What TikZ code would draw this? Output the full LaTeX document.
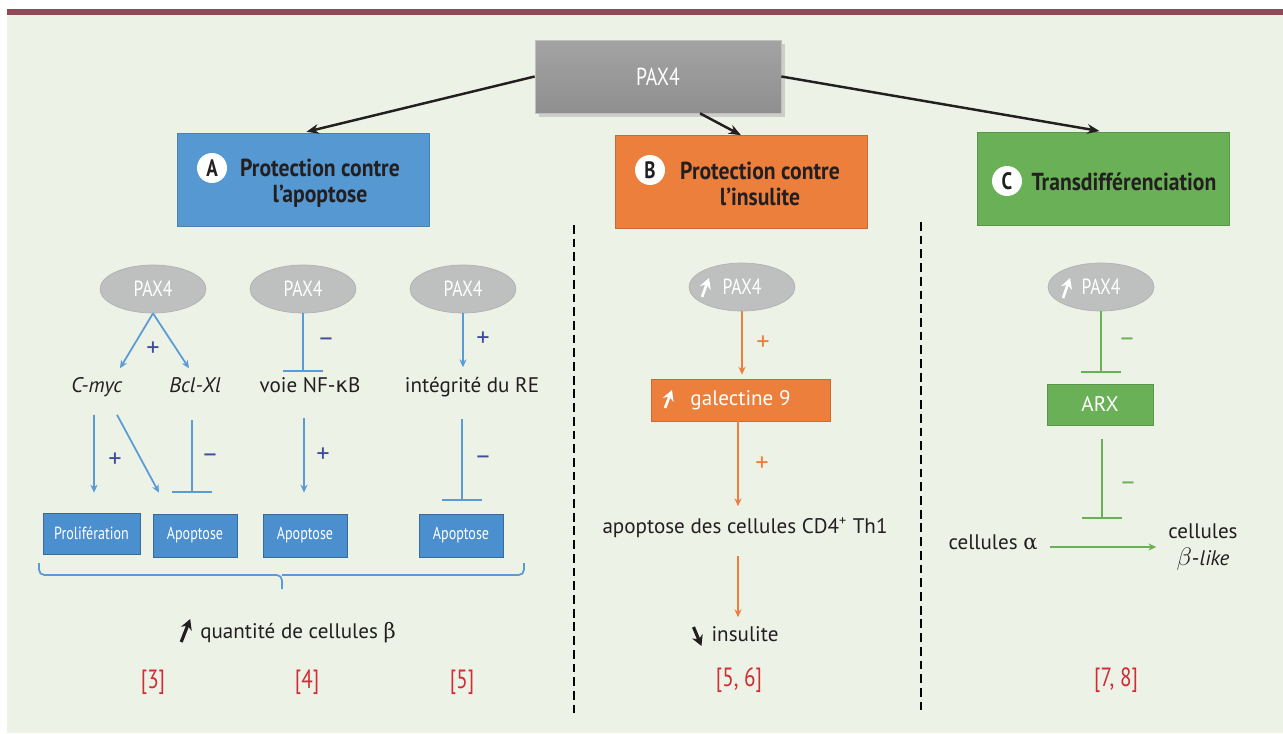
\documentclass[tikz,border=0pt]{standalone}
\usepackage{fontspec}
\setmainfont{PT Sans}
\newfontfamily\etroit{PT Sans}[FakeStretch=0.8]
\newfontfamily\titrefont{PT Sans}[FakeStretch=0.88]
\newfontfamily\grec{DejaVu Sans}
\newfontfamily\grecserif{DejaVu Serif}
\usetikzlibrary{arrows.meta,calc,shapes.geometric,shadows}

\definecolor{fond}{RGB}{237,242,231}
\definecolor{bordeaux}{RGB}{142,74,86}
\definecolor{bleuA}{RGB}{86,152,209}
\definecolor{bleuT}{RGB}{76,143,206}
\definecolor{bleuL}{RGB}{91,155,213}
\definecolor{signeA}{RGB}{62,76,155}
\definecolor{orangeB}{RGB}{237,127,60}
\definecolor{vertC}{RGB}{106,176,86}
\definecolor{grisE}{RGB}{190,191,191}
\definecolor{rouge}{RGB}{208,45,52}
\definecolor{texte}{RGB}{35,31,32}

\tikzset{
  boite/.style={rectangle, minimum width=5.04cm, minimum height=1.86cm, draw=#1!85!black, fill=#1, line width=0.4pt},
  pastille/.style={circle, fill=white, inner sep=0pt, minimum size=0.6cm, text=texte, font=\etroit\fontsize{13.5}{13.5}\selectfont\bfseries},
  titre/.style={align=center, text=texte, font=\titrefont\fontsize{14}{14.7}\selectfont\bfseries},
  pax/.style={ellipse, fill=grisE, draw=gray!60, minimum width=2.12cm, minimum height=0.96cm, inner sep=0pt, text=white, font=\etroit\fontsize{12.5}{12.5}\selectfont},
  petite/.style={rectangle, draw=bleuT!75!black, fill=bleuT, minimum width=1.68cm, minimum height=0.86cm, inner sep=0pt, text=white, font=\etroit\fontsize{10}{10}\selectfont},
  mot/.style={text=texte, inner sep=1pt, text height=8.5pt, text depth=2.5pt, font=\fontsize{12}{14}\selectfont},
  signe/.style={text=#1, inner sep=1pt, font=\fontsize{15}{15}\selectfont},
  biblio/.style={text=rouge, inner sep=1pt, font=\etroit\fontsize{15}{15}\selectfont},
  fl/.style={draw=#1, line width=1pt, -{Stealth[length=4.5pt,width=4pt]}},
  inhib/.style={draw=#1, line width=1pt, -{Bar[width=23pt]}},
  noire/.style={draw=texte, line width=1.4pt, -{Stealth[length=7pt,width=5.5pt]}},
  grosse/.style={draw=#1, line width=1.8pt, -{Stealth[length=6pt,width=6.5pt]}},
  pointilles/.style={draw=black, line width=1.6pt, dash pattern=on 5pt off 2.8pt}
}

\begin{document}
\begin{tikzpicture}[x=0.02cm, y=-0.02cm]
  \useasboundingbox (0,0) rectangle (1283,733);

  % Fond
  \fill[white] (0,0) rectangle (1283,733);
  \fill[fond] (7,15) rectangle (1283,733);
  \fill[bordeaux] (7,9) rectangle (1283,15);

  % Boites du haut
  \node[rectangle, top color=gray!72, bottom color=gray!88, draw=gray!50,
        drop shadow={opacity=0.3}, minimum width=4.92cm, minimum height=1.46cm,
        text=white, font=\etroit\fontsize{14}{14}\selectfont] (pax) at (658,76.5) {PAX4};
  \node[boite=bleuA] (boiteA) at (303,179.5) {};
  \node[boite=orangeB] (boiteB) at (741,182) {};
  \node[boite=vertC] (boiteC) at (1103,178.5) {};

  \node[pastille] (pA) at (212,168) {A};
  \node[titre] (tA) at (320,183) {Protection contre\\l’apoptose};
  \node[pastille] (pB) at (650,170) {B};
  \node[titre] (tB) at (760,184) {Protection contre\\l’insulite};
  \node[pastille] (pC) at (1007,181) {C};
  \node[titre] (tC) at (1124,182) {Transdifférenciation};

  \draw[noire, shorten >=2pt] (pax.west) -- (boiteA.north);
  \draw[noire] ($(pax.south)+(42,0)$) -- (boiteB.north);
  \draw[noire, shorten >=2pt] (pax.east) -- (boiteC.north);

  % Separations
  \draw[pointilles] (574,225) -- (574,716);
  \draw[pointilles] (921,222) -- (921,712);

  % A : apoptose
  \node[pax] (pax1) at (153,289) {PAX4};
  \node[pax] (pax2) at (303,289) {PAX4};
  \node[pax] (pax3) at (463,289) {PAX4};
  \node[mot] (cmyc) at (97,387) {\textit{C-myc}};
  \node[mot] (bcl) at (195,387) {\textit{Bcl-Xl}};
  \node[mot] (nfkb) at (310,387) {voie NF-{\grec κ}B};
  \node[mot] (integ) at (472,387) {intégrité du RE};
  \node[petite, minimum width=1.94cm, minimum height=0.82cm] (prolif) at (91.5,533.5) {Prolifération};
  \node[petite] (apop1) at (195,535.5) {Apoptose};
  \node[petite] (apop2) at (305,535.5) {Apoptose};
  \node[petite] (apop3) at (461,535.5) {Apoptose};

  \draw[fl=bleuL] (pax1.south) -- ($(cmyc.north)+(23,-7)$);
  \draw[fl=bleuL] (pax1.south) -- ($(bcl.north)+(-6,-7)$);
  \draw[inhib=bleuL] (pax2.south) -- ($(pax2.south |- nfkb.north)+(0,-3)$);
  \draw[fl=bleuL] (pax3.south) -- ($(pax3.south |- integ.north)+(0,-8)$);
  \draw[fl=bleuL] ($(cmyc.south)+(-3,16)$) -- ($(prolif.north)+(2.5,-20)$);
  \draw[fl=bleuL] ($(cmyc.south)+(20,16)$) -- ($(apop1.north)+(-36,-21)$);
  \draw[inhib=bleuL] ($(bcl.south)+(-3,21)$) -- ($(apop1.north)+(-3,-21)$);
  \draw[fl=bleuL] ($(nfkb.south)+(-6,19)$) -- ($(apop2.north)+(-1,-21)$);
  \draw[inhib=bleuL] ($(integ.south)+(-10,20)$) -- ($(apop3.north)+(1,-13)$);

  \node[signe=signeA] (sA1) at (153,349) {+};
  \node[signe=signeA] (sA2) at (326,342) {–};
  \node[signe=signeA] (sA3) at (483,339) {+};
  \node[signe=signeA] (sA4) at (115,460) {+};
  \node[signe=signeA] (sA5) at (210,458) {–};
  \node[signe=signeA] (sA6) at (323,455) {+};
  \node[signe=signeA] (sA7) at (483,460) {–};

  \draw[bleuL, line width=1pt, rounded corners=3pt] (39,563) |- (282,575) -- (282,589);
  \draw[bleuL, line width=1pt, rounded corners=3pt] (524,563) |- (282,575);

  \node[mot] (quant) at (298,633) {quantité de cellules {\grecserif β}};
  \draw[grosse=texte] ($(quant.west)+(-17,9)$) -- ($(quant.west)+(-8,-14)$);

  % B : insulite
  \node[pax] (paxB) at (742,287) {PAX4};
  \draw[grosse=white, line width=1.5pt] ($(paxB.center)+(-40,10)$) -- ($(paxB.center)+(-33,-9)$);
  \node[rectangle, fill=orangeB, draw=orangeB!85!black, minimum width=3.58cm, minimum height=0.84cm,
        text=white, font=\fontsize{12}{12}\selectfont] (galB) at (740.5,400) {galectine 9};
  \draw[grosse=white, line width=1.5pt] ($(galB.center)+(-75.5,8)$) -- ($(galB.center)+(-68.5,-10)$);
  \node[mot] (apoB) at (745,528) {apoptose des cellules CD4\textsuperscript{+} Th1};
  \node[mot] (insB) at (745,636) {insulite};
  \draw[grosse=texte] ($(insB.west)+(-16,-9)$) -- ($(insB.west)+(-8,10)$);

  \draw[fl=orangeB] (paxB.south) -- ($(paxB.south |- galB.north)+(0,-4)$);
  \draw[fl=orangeB] ($(galB.south)+(-2.5,0)$) -- ($(apoB.north)+(-7,-10)$);
  \draw[fl=orangeB] ($(apoB.south)+(-7,16)$) -- ($(insB.north)+(-7,-7)$);
  \node[signe=orangeB] (sB1) at (763,343) {+};
  \node[signe=orangeB] (sB2) at (762,464) {+};

  % C : transdifferenciation
  \node[pax] (paxC) at (1101,287) {PAX4};
  \draw[grosse=white, line width=1.5pt] ($(paxC.center)+(-38,11)$) -- ($(paxC.center)+(-31,-9)$);
  \node[rectangle, fill=vertC, draw=vertC!85!black, minimum width=2.12cm, minimum height=0.82cm,
        text=white, font=\fontsize{12}{12}\selectfont] (arx) at (1100,404.5) {ARX};
  \node[mot] (alpha) at (993,544) {cellules {\grecserif α}};
  \node[text=texte, inner sep=1pt, align=center, font=\fontsize{12}{15.3}\selectfont] (betal) at (1203,547)
        {cellules\\{\Large$\beta$}-\textit{like}};

  \draw[fl=vertC] ($(alpha.east)+(10,3)$) -- coordinate (trans) ($(betal.west)+(-10,0)$);
  \draw[inhib=vertC] (paxC.south) -- ($(paxC.south |- arx.north)+(0,-11)$);
  \draw[inhib=vertC] ($(arx.south)+(2,14)$) -- ($(arx.south |- trans)+(2,-28)$);
  \node[signe=vertC] (sC1) at (1127,342) {–};
  \node[signe=vertC] (sC2) at (1128,486) {–};

  % References
  \node[biblio] (r3) at (153,682) {[3]};
  \node[biblio] (r4) at (307,682) {[4]};
  \node[biblio] (r5) at (462,682) {[5]};
  \node[biblio] (r56) at (739,680) {[5, 6]};
  \node[biblio] (r78) at (1116,680) {[7, 8]};
\end{tikzpicture}
\end{document}
